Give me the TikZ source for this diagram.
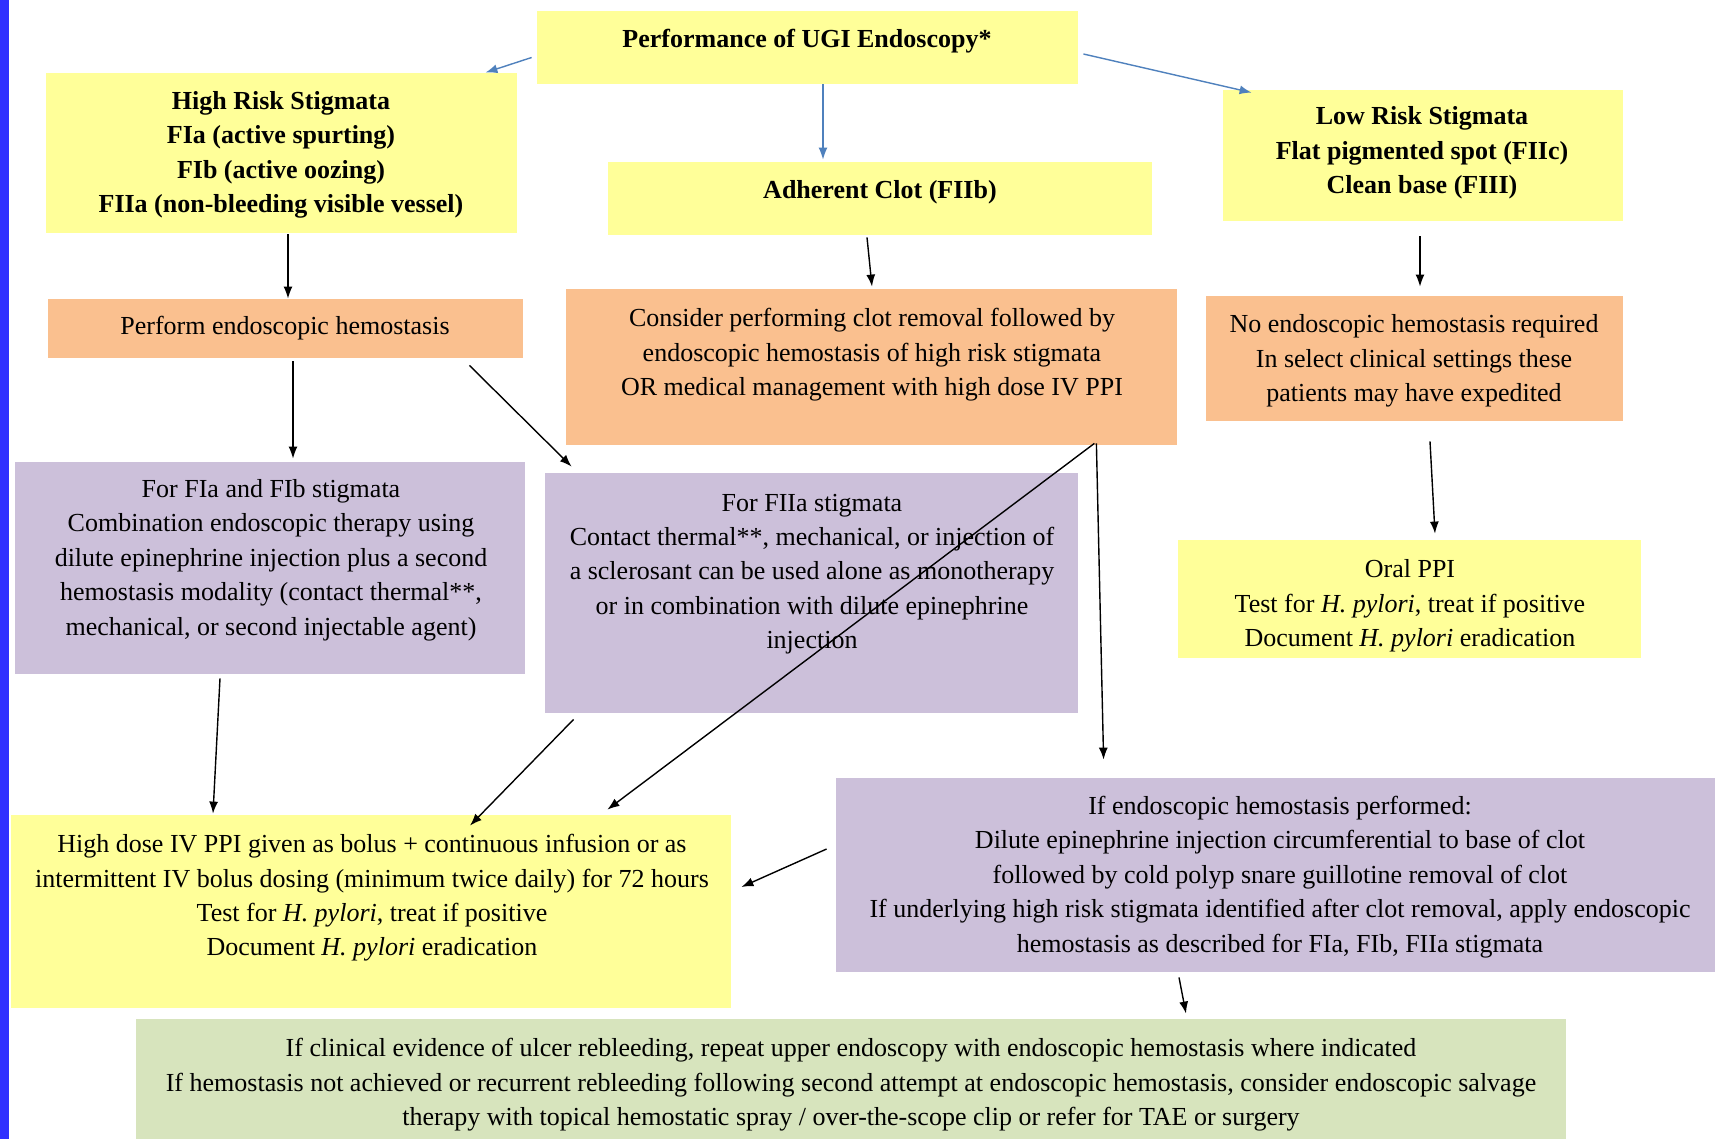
\documentclass[tikz,border=0pt]{standalone}
\usepackage{fontspec}
\setmainfont{Liberation Serif}
\usepackage{tikz}
\usetikzlibrary{arrows.meta}

\definecolor{boxyellow}{RGB}{255,255,153}
\definecolor{boxorange}{RGB}{250,192,143}
\definecolor{boxpurple}{RGB}{204,192,218}
\definecolor{boxgreen}{RGB}{215,228,189}
\definecolor{arrowblue}{RGB}{79,129,189}
\definecolor{barblue}{RGB}{48,48,255}

\begin{document}
\begin{tikzpicture}[x = 0.5pt, y = -0.5pt,
  box/.style = {rectangle, inner sep = 0pt},
  ybox/.style = {box, fill = boxyellow},
  obox/.style = {box, fill = boxorange},
  pbox/.style = {box, fill = boxpurple},
  gbox/.style = {box, fill = boxgreen},
  txt/.style = {align = center, inner sep = 0pt, font = \fontsize{13}{17.2}\selectfont},
  btxt/.style = {txt, font = \fontsize{13}{17.2}\selectfont\bfseries},
  flow/.style = {-{Latex[length = 6pt, width = 4.5pt]}, line width = 0.7pt},
  bflow/.style = {flow, color = arrowblue}]
\useasboundingbox (0, 0) rectangle (1715, 1139);
\fill[white] (0, 0) rectangle (1715, 1139);
\fill[barblue] (0, 0) rectangle (9, 1139);

% boxes
\node (perf) at (807.5, 47.5) [ybox, minimum width = 270.5pt, minimum height = 36.5pt] {};
\node (high) at (281.5, 153) [ybox, minimum width = 235.5pt, minimum height = 80pt] {};
\node (clot) at (880, 198.5) [ybox, minimum width = 272pt, minimum height = 36.5pt] {};
\node (low) at (1423, 155.5) [ybox, minimum width = 200pt, minimum height = 65.5pt] {};
\node (hemo) at (285.5, 328.5) [obox, minimum width = 237.5pt, minimum height = 29.5pt] {};
\node (consider) at (871.5, 367) [obox, minimum width = 305.5pt, minimum height = 78pt] {};
\node (noendo) at (1414.5, 358.5) [obox, minimum width = 208.5pt, minimum height = 62.5pt] {};
\node (fia) at (270, 568) [pbox, minimum width = 255pt, minimum height = 106pt] {};
\node (fiia) at (811.5, 593) [pbox, minimum width = 266.5pt, minimum height = 120pt] {};
\node (oral) at (1409.5, 599) [ybox, minimum width = 231.5pt, minimum height = 59pt] {};
\node (ivppi) at (371, 911.5) [ybox, minimum width = 360pt, minimum height = 96.5pt] {};
\node (ifendo) at (1275.5, 875) [pbox, minimum width = 439.5pt, minimum height = 97pt] {};
\node (rebleed) at (851, 1079) [gbox, minimum width = 715pt, minimum height = 60pt] {};

% texts
\node (perftxt) at (807, 41) [btxt] {Performance of UGI Endoscopy*};
\node (hightxt) at (281, 155) [btxt] {High Risk Stigmata\\FIa (active spurting)\\FIb (active oozing)\\FIIa (non-bleeding visible vessel)};
\node (clottxt) at (880, 192) [btxt] {Adherent Clot (FIIb)};
\node (lowtxt) at (1422, 153) [btxt] {Low Risk Stigmata\\Flat pigmented spot (FIIc)\\Clean base (FIII)};
\node (hemotxt) at (285, 328) [txt] {Perform endoscopic hemostasis};
\node (considertxt) at (872, 355) [txt] {Consider performing clot removal followed by\\endoscopic hemostasis of high risk stigmata\\OR medical management with high dose IV PPI};
\node (noendotxt) at (1414, 361) [txt] {No endoscopic hemostasis required\\In select clinical settings these\\patients may have expedited};
\node (fiatxt) at (271, 560) [txt] {For FIa and FIb stigmata\\Combination endoscopic therapy using\\dilute epinephrine injection plus a second\\hemostasis modality (contact thermal**,\\mechanical, or second injectable agent)};
\node (fiiatxt) at (812, 574) [txt] {For FIIa stigmata\\Contact thermal**, mechanical, or injection of\\a sclerosant can be used alone as monotherapy\\or in combination with dilute epinephrine\\injection};
\node (oraltxt) at (1410, 606) [txt] {Oral PPI\\Test for \textit{H. pylori}, treat if positive\\Document \textit{H. pylori} eradication};
\node (ivppitxt) at (372, 898) [txt] {High dose IV PPI given as bolus + continuous infusion or as\\intermittent IV bolus dosing (minimum twice daily) for 72 hours\\Test for \textit{H. pylori}, treat if positive\\Document \textit{H. pylori} eradication};
\node (ifendotxt) at (1280, 877) [txt] {If endoscopic hemostasis performed:\\Dilute epinephrine injection circumferential to base of clot\\followed by cold polyp snare guillotine removal of clot\\If underlying high risk stigmata identified after clot removal, apply endoscopic\\hemostasis as described for FIa, FIb, FIIa stigmata};
\node (rebleedtxt) at (851, 1085) [txt] {If clinical evidence of ulcer rebleeding, repeat upper endoscopy with endoscopic hemostasis where indicated\\If hemostasis not achieved or recurrent rebleeding following second attempt at endoscopic hemostasis, consider endoscopic salvage\\therapy with topical hemostatic spray / over-the-scope clip or refer for TAE or surgery};

% arrows
\draw[bflow] ([xshift = -2.5pt, yshift = -5pt]perf.west) -- ([xshift = -16pt]high.north east);
\draw[bflow] ([xshift = 7.75pt]perf.south) -- ([xshift = -28.5pt, yshift = 1pt]clot.north);
\draw[bflow] ([xshift = 2.5pt, yshift = -3.25pt]perf.east) -- ([xshift = 14.5pt, yshift = -1.5pt]low.north west);
\draw[flow] ([xshift = 3.25pt, yshift = -0.5pt]high.south) -- ([xshift = 1.25pt]hemo.north);
\draw[flow] ([xshift = -6.5pt, yshift = -1pt]clot.south) -- ([xshift = 0.25pt, yshift = 1pt]consider.north);
\draw[flow] ([xshift = -1.5pt, yshift = -7.5pt]low.south) -- ([xshift = 2.75pt, yshift = 4.5pt]noendo.north);
\draw[flow] ([xshift = 3.75pt, yshift = -1.5pt]hemo.south) -- ([xshift = 11.5pt, yshift = 1.5pt]fia.north);
\draw[flow] ([xshift = -27pt, yshift = -3.5pt]hemo.south east) -- ([xshift = 13.5pt, yshift = 3pt]fiia.north west);
\draw[flow] ([xshift = -40.5pt, yshift = 1pt]consider.south east) -- ([xshift = 134pt, yshift = 9pt]ifendo.north west);
\draw[flow] ([xshift = -41.5pt, yshift = 1pt]consider.south east) -- ([xshift = -62pt, yshift = 2.5pt]ivppi.north east);
\draw[flow] ([xshift = 7.75pt, yshift = -10pt]noendo.south) -- ([xshift = 12.75pt, yshift = 3pt]oral.north);
\draw[flow] ([xshift = -25pt, yshift = -2pt]fia.south) -- ([xshift = -79pt, yshift = 0.5pt]ivppi.north);
\draw[flow] ([xshift = 14.5pt, yshift = -3pt]fiia.south west) -- ([xshift = 49.5pt, yshift = -5.5pt]ivppi.north);
\draw[flow] ([xshift = -4.5pt, yshift = 13pt]ifendo.west) -- ([xshift = 5pt, yshift = 12.25pt]ivppi.east);
\draw[flow] ([xshift = -48.25pt, yshift = -2.5pt]ifendo.south) -- ([xshift = 167.5pt, yshift = 2.5pt]rebleed.north);
\end{tikzpicture}
\end{document}
